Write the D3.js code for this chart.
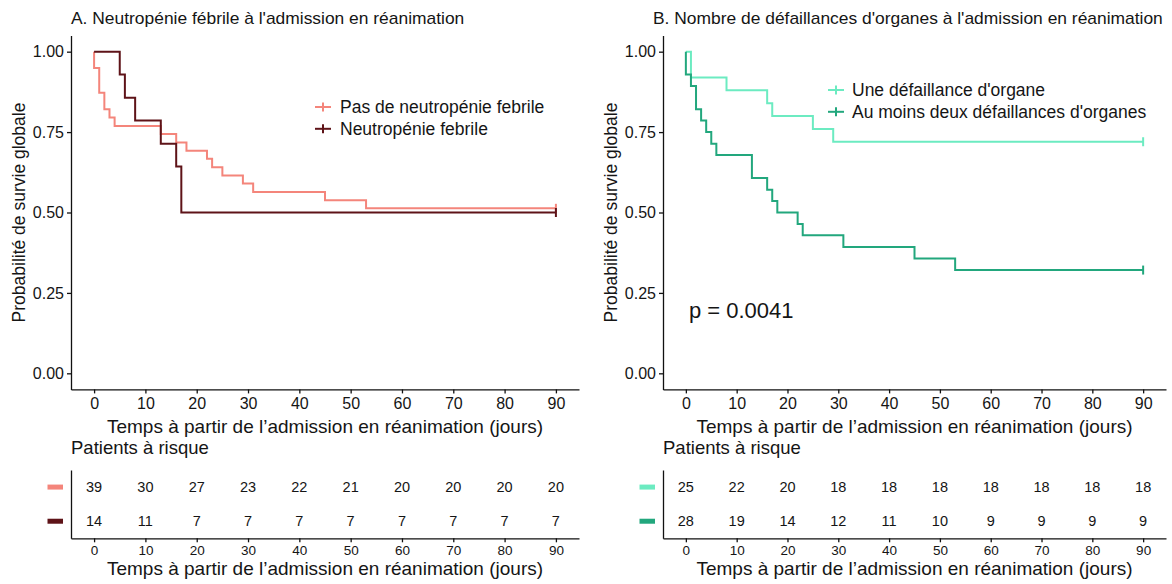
<!DOCTYPE html>
<html><head><meta charset="utf-8">
<script src="https://cdn.jsdelivr.net/npm/d3@7"></script>
<style>
body{margin:0;background:#fff}
svg{display:block}
text{font-family:"Liberation Sans",Arial,sans-serif;fill:#151515}
</style></head>
<body><svg id="c" width="1172" height="584"></svg>
<script>
// ---------- data ----------
const timeTicks = [0,10,20,30,40,50,60,70,80,90];
const survTicks = [0,0.25,0.5,0.75,1];

const titleA = "A. Neutropénie fébrile à l'admission en réanimation";
const titleB = "B. Nombre de défaillances d'organes à l'admission en réanimation";
const xTitle = "Temps à partir de l\u2019admission en réanimation (jours)";
const yTitle = "Probabilité de survie globale";
const riskTitle = "Patients à risque";

const namesA = ["Pas de neutropénie febrile", "Neutropénie febrile"];
const namesB = ["Une défaillance d'organe", "Au moins deux défaillances d'organes"];

// Kaplan-Meier step points (time in days, survival probability)
const timeA1 = [0, 0, 1, 2, 3, 4, 13, 16, 18, 22, 23, 25, 29, 31, 45, 53, 90];
const survA1 = [1, 0.949, 0.872, 0.821, 0.795, 0.769, 0.744, 0.718, 0.692, 0.667, 0.641, 0.615, 0.590, 0.564, 0.538, 0.513, 0.513];
const timeA2 = [0, 5, 6, 8, 13, 16, 17, 90];
const survA2 = [1, 0.929, 0.857, 0.786, 0.714, 0.643, 0.5, 0.5];

const timeB1 = [0, 1, 8, 16, 17, 25, 29, 90];
const survB1 = [1, 0.92, 0.88, 0.84, 0.80, 0.76, 0.72, 0.72];
const timeB2 = [0, 0, 1, 2, 3, 4, 5, 6, 13, 16, 17, 18, 22, 23, 31, 45, 53, 90];
const survB2 = [1, 0.929, 0.893, 0.821, 0.786, 0.75, 0.714, 0.679, 0.607, 0.571, 0.536, 0.5, 0.464, 0.429, 0.393, 0.357, 0.321, 0.321];

const riskA1 = [39,30,27,23,22,21,20,20,20,20];
const riskA2 = [14,11,7,7,7,7,7,7,7,7];
const riskB1 = [25,22,20,18,18,18,18,18,18,18];
const riskB2 = [28,19,14,12,11,10,9,9,9,9];

const pValueText = "p = 0.0041";

const colorsA = ["#F4857B", "#5E1318"];
const colorsB = ["#6CEBC1", "#22A77D"];

// ---------- drawing ----------
const svg = d3.select("#c");
const plotTop = 35.6, plotBottom = 389.4;
const tabTop = 470, tabBottom = 538.3;

function zip(t, s){ return t.map((d,i)=>[d, s[i]]); }

// title font size chosen so the longer title fits within the figure
const probe = svg.append("text").style("font-size","100px").text(titleB);
const titleSize = Math.min(18, 100 * 510 / probe.node().getComputedTextLength());
probe.remove();

function drawPanel(cfg){
  const g = svg.append("g");
  const x = d3.scaleLinear().domain([-4.5, 94.5]).range([cfg.left, cfg.right]);
  const y = d3.scaleLinear().domain([-0.05, 1.05]).range([plotBottom, plotTop]);

  // title
  g.append("text").attr("x", cfg.titleX).attr("y", 24)
    .style("font-size", titleSize + "px").text(cfg.title);

  // axes
  const ax = g.append("g").attr("transform",`translate(0,${plotBottom})`)
    .call(d3.axisBottom(x).tickValues(timeTicks).tickSize(4).tickPadding(4).tickSizeOuter(0));
  ax.selectAll("text").style("font-size","16px");
  const ay = g.append("g").attr("transform",`translate(${cfg.left},0)`)
    .call(d3.axisLeft(y).tickValues(survTicks).tickFormat(d3.format(".2f")).tickSize(4).tickPadding(3).tickSizeOuter(0));
  ay.selectAll("text").style("font-size","16px");
  [ax, ay].forEach(a=>{
    a.selectAll("path,line").attr("stroke","#111").attr("stroke-width",1.3);
  });

  // axis titles
  g.append("text").attr("x",(cfg.left+cfg.right)/2).attr("y",433)
    .attr("text-anchor","middle").style("font-size","19px").text(xTitle);
  g.append("text").attr("transform",`translate(${cfg.left-46.5},${(plotTop+plotBottom)/2}) rotate(-90)`)
    .attr("text-anchor","middle").style("font-size","17.5px").text(yTitle);

  // curves
  const line = d3.line().x(d=>x(d[0])).y(d=>y(d[1])).curve(d3.curveStepAfter);
  cfg.series.forEach((s,i)=>{
    const pts = zip(s.t, s.s);
    g.append("path").datum(pts).attr("d", line)
      .attr("fill","none").attr("stroke", cfg.colors[i]).attr("stroke-width",2);
    const last = pts[pts.length-1];
    g.append("line").attr("x1",x(last[0])).attr("x2",x(last[0]))
      .attr("y1",y(last[1])-4.5).attr("y2",y(last[1])+4.5)
      .attr("stroke",cfg.colors[i]).attr("stroke-width",2);
  });

  // legend
  cfg.names.forEach((n,i)=>{
    const ly = cfg.legY + i*21.8;
    g.append("line").attr("x1",cfg.legX).attr("x2",cfg.legX+16).attr("y1",ly).attr("y2",ly)
      .attr("stroke",cfg.colors[i]).attr("stroke-width",2);
    g.append("line").attr("x1",cfg.legX+8).attr("x2",cfg.legX+8).attr("y1",ly-4.5).attr("y2",ly+4.5)
      .attr("stroke",cfg.colors[i]).attr("stroke-width",2);
    g.append("text").attr("x",cfg.legX+cfg.legGap).attr("y",ly+6)
      .style("font-size","17.5px").text(n);
  });

  if (cfg.pval){
    g.append("text").attr("x", x(0.6)).attr("y", 318)
      .style("font-size","22px").text(cfg.pval);
  }

  // risk table
  g.append("text").attr("x", cfg.left).attr("y", 454).style("font-size","18.5px").text(riskTitle);
  const rows = d3.scalePoint().domain([0,1]).range([tabTop, tabBottom]).padding(0.5);
  const tx = g.append("g").attr("transform",`translate(0,${tabBottom})`)
    .call(d3.axisBottom(x).tickValues(timeTicks).tickSize(4).tickPadding(3).tickSizeOuter(0));
  tx.selectAll("text").style("font-size","13.5px");
  const ty = g.append("g").attr("transform",`translate(${cfg.left},0)`)
    .call(d3.axisLeft(d3.scaleLinear().range([tabTop, tabBottom])).tickValues([]).tickSizeOuter(0));
  [tx, ty].forEach(a=>a.selectAll("path,line").attr("stroke","#111").attr("stroke-width",1.3));
  g.append("text").attr("x",(cfg.left+cfg.right)/2).attr("y",575)
    .attr("text-anchor","middle").style("font-size","19px").text(xTitle);

  cfg.risk.forEach((r,i)=>{
    const ry = rows(i);
    g.append("line").attr("x1",cfg.left-23.5).attr("x2",cfg.left-8).attr("y1",ry).attr("y2",ry)
      .attr("stroke",cfg.colors[i]).attr("stroke-width",5);
    g.selectAll(null).data(r).enter().append("text")
      .attr("x",(d,j)=>x(timeTicks[j])).attr("y",ry).attr("dy","0.35em")
      .attr("text-anchor","middle").style("font-size","14.5px").text(d=>d);
  });
}

drawPanel({
  left:71, right:579, titleX:71, title:titleA, colors:colorsA, names:namesA,
  series:[{t:timeA1,s:survA1},{t:timeA2,s:survA2}],
  legX:315, legGap:25, legY:107, risk:[riskA1, riskA2]
});
drawPanel({
  left:663, right:1166, titleX:653, title:titleB, colors:colorsB, names:namesB,
  series:[{t:timeB1,s:survB1},{t:timeB2,s:survB2}],
  legX:828, legGap:24, legY:90, risk:[riskB1, riskB2], pval:pValueText
});
</script></body></html>
